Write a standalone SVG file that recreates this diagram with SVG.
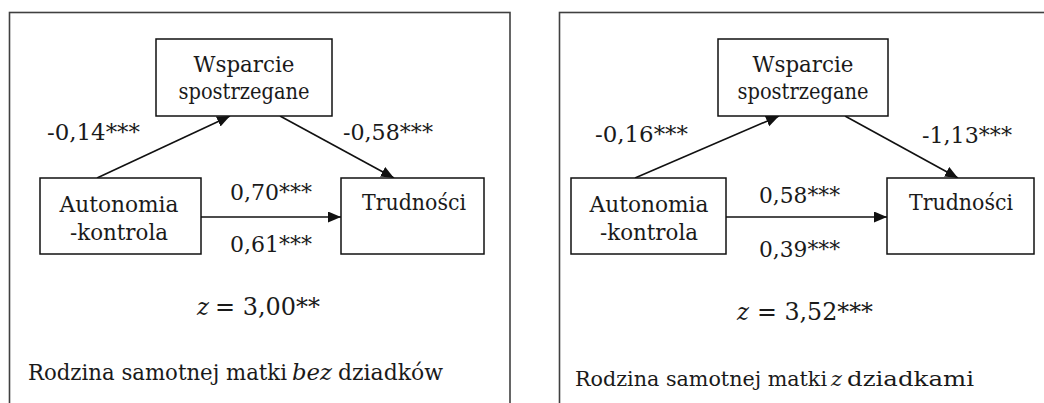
<svg xmlns="http://www.w3.org/2000/svg" width="1044" height="403" viewBox="0 0 1044 403">
<defs>
<style>
.frame{fill:none;stroke:#404040;stroke-width:1.6}
.box{fill:#fff;stroke:#111;stroke-width:1.5}
.t{font-family:"DejaVu Serif","Liberation Serif",serif;font-size:23px;fill:#1a1a1a}
.c{text-anchor:middle}
.i{font-style:italic}
.z{font-size:24px}
.capL{font-size:21.5px}
.capR{font-size:21px}
.edge{stroke:#111;stroke-width:1.6;fill:none;marker-end:url(#ah)}
</style>
<marker id="ah" markerUnits="userSpaceOnUse" markerWidth="14" markerHeight="12" refX="13" refY="5.5" orient="auto">
<path d="M0,0 L13,5.5 L0,11 z" fill="#111"/>
</marker>
</defs>
<rect width="1044" height="403" fill="#fff"/>
<rect class="frame" x="9.5" y="12.5" width="500.5" height="430"/>
<rect class="frame" x="559.5" y="12.5" width="520" height="430"/>

<g id="connectors">
<line class="edge" x1="97" y1="178" x2="230" y2="116"/>
<line class="edge" x1="280" y1="116" x2="394" y2="178"/>
<line class="edge" x1="201" y1="217" x2="341" y2="217"/>
<line class="edge" x1="635" y1="178" x2="779" y2="116"/>
<line class="edge" x1="845" y1="116" x2="958" y2="178"/>
<line class="edge" x1="726" y1="217" x2="887" y2="217"/>
</g>

<g id="left-wsparcie">
<rect class="box" x="156" y="39" width="176" height="77"/>
<text class="t c" x="244" y="72" textLength="101" lengthAdjust="spacingAndGlyphs">Wsparcie</text>
<text class="t c" x="244" y="99" textLength="131" lengthAdjust="spacingAndGlyphs">spostrzegane</text>
</g>
<g id="left-autonomia">
<rect class="box" x="40" y="178" width="161" height="76"/>
<text class="t c" x="119" y="212" textLength="119" lengthAdjust="spacingAndGlyphs">Autonomia</text>
<text class="t c" x="119" y="240" textLength="98" lengthAdjust="spacingAndGlyphs">-kontrola</text>
</g>
<g id="left-trudnosci">
<rect class="box" x="341" y="178" width="143" height="76"/>
<text class="t c" x="414" y="210" textLength="104" lengthAdjust="spacingAndGlyphs">Trudności</text>
</g>
<g id="left-labels">
<text class="t" x="47" y="140" textLength="93" lengthAdjust="spacingAndGlyphs">-0,14***</text>
<text class="t" x="343" y="140" textLength="90" lengthAdjust="spacingAndGlyphs">-0,58***</text>
<text class="t" x="230" y="200" textLength="82" lengthAdjust="spacingAndGlyphs">0,70***</text>
<text class="t" x="230" y="252" textLength="82" lengthAdjust="spacingAndGlyphs">0,61***</text>
<text class="t z i" x="197" y="315" textLength="12" lengthAdjust="spacingAndGlyphs">z</text>
<text class="t z" x="215" y="315" textLength="105" lengthAdjust="spacingAndGlyphs">= 3,00**</text>
<text class="t capL" x="28" y="380" textLength="259" lengthAdjust="spacingAndGlyphs">Rodzina samotnej matki</text>
<text class="t capL i" x="292" y="380" textLength="40" lengthAdjust="spacingAndGlyphs">bez</text>
<text class="t capL" x="338" y="380" textLength="105" lengthAdjust="spacingAndGlyphs">dziadków</text>
</g>

<g id="right-wsparcie">
<rect class="box" x="718" y="39" width="170" height="77"/>
<text class="t c" x="803" y="72" textLength="101" lengthAdjust="spacingAndGlyphs">Wsparcie</text>
<text class="t c" x="803" y="99" textLength="131" lengthAdjust="spacingAndGlyphs">spostrzegane</text>
</g>
<g id="right-autonomia">
<rect class="box" x="571" y="178" width="155" height="76"/>
<text class="t c" x="649" y="212" textLength="119" lengthAdjust="spacingAndGlyphs">Autonomia</text>
<text class="t c" x="649" y="240" textLength="98" lengthAdjust="spacingAndGlyphs">-kontrola</text>
</g>
<g id="right-trudnosci">
<rect class="box" x="887" y="178" width="147" height="76"/>
<text class="t c" x="961" y="210" textLength="104" lengthAdjust="spacingAndGlyphs">Trudności</text>
</g>
<g id="right-labels">
<text class="t" x="595" y="142" textLength="93" lengthAdjust="spacingAndGlyphs">-0,16***</text>
<text class="t" x="922" y="143" textLength="90" lengthAdjust="spacingAndGlyphs">-1,13***</text>
<text class="t" x="759" y="203" textLength="81" lengthAdjust="spacingAndGlyphs">0,58***</text>
<text class="t" x="759" y="257" textLength="81" lengthAdjust="spacingAndGlyphs">0,39***</text>
<text class="t z i" x="737" y="320" textLength="12" lengthAdjust="spacingAndGlyphs">z</text>
<text class="t z" x="757" y="320" textLength="116" lengthAdjust="spacingAndGlyphs">= 3,52***</text>
<text class="t capR" x="575" y="386" textLength="252" lengthAdjust="spacingAndGlyphs">Rodzina samotnej matki</text>
<text class="t capR i" x="831" y="386" textLength="11" lengthAdjust="spacingAndGlyphs">z</text>
<text class="t capR" x="847" y="386" textLength="127" lengthAdjust="spacingAndGlyphs">dziadkami</text>
</g>
</svg>
